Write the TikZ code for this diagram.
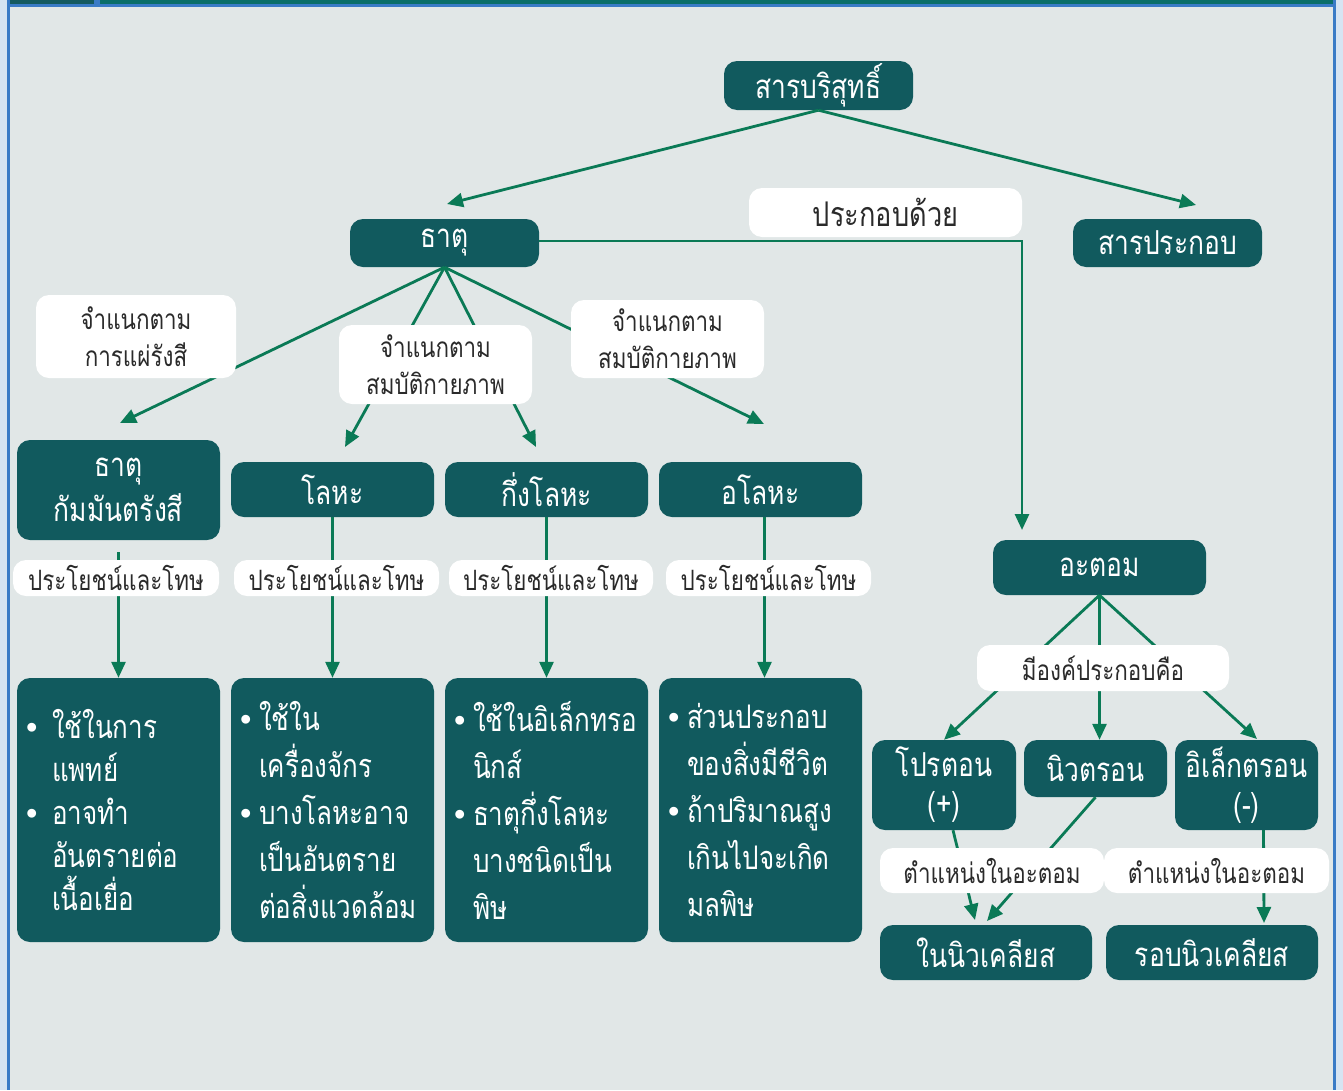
\documentclass[tikz,border=0pt]{standalone}
\usepackage{fontspec}
\setmainfont{Liberation Sans}
\newfontfamily\thaifont[Script=Thai,FakeStretch=0.8]{Loma}
\usetikzlibrary{arrows.meta}

\definecolor{bg}{HTML}{E1E7E7}
\definecolor{frameblue}{HTML}{3A7BC6}
\definecolor{bandteal}{HTML}{0A6E69}
\definecolor{banddark}{HTML}{145A60}
\definecolor{boxfill}{HTML}{115A5E}
\definecolor{linkgreen}{HTML}{0A7A56}
\definecolor{labeltext}{HTML}{2A2A2A}
\definecolor{edgepale}{HTML}{D6E4F2}

% bullet and hanging indent for the list boxes
\newlength\bltw
\setlength\bltw{19pt}
\newcommand\blt{\makebox[\bltw][l]{\fontspec{Liberation Sans}\textbullet}}
\newcommand\ind{\hspace*{\bltw}}

\tikzset{
  box/.style={fill=boxfill, rounded corners=13pt, text=white, align=center,
    inner sep=0pt, font=\thaifont\fontsize{33}{40}\selectfont},
  listbox/.style={box, align=left, text width=185pt, inner xsep=9pt,
    minimum height=264pt, font=\thaifont\fontsize{32.5}{47}\selectfont},
  lab/.style={fill=white, rounded corners=13pt, text=labeltext, align=center,
    inner sep=0pt, font=\thaifont\fontsize{28}{37}\selectfont},
  link/.style={draw=linkgreen, line width=2.8pt},
  arr/.style={link, -{Triangle[length=16pt,width=14pt]}}
}

\begin{document}
\begin{tikzpicture}[x=1pt,y=-1pt]
% page, frame and top band
\useasboundingbox (0,0) rectangle (1343,1090);
\fill[edgepale] (0,0) rectangle (1343,1090);
\fill[bg] (7,0) rectangle (1336,1090);
\fill[bandteal] (7,0) rectangle (1336,4);
\fill[banddark] (10,0) rectangle (94,4);
\fill[frameblue] (7,4) rectangle (1336,7);
\fill[frameblue] (94,0) rectangle (100,7);
\fill[frameblue] (7,0) rectangle (10,1090);
\fill[frameblue] (1333,0) rectangle (1336,1090);

% main nodes
\node[box, minimum width=189pt, minimum height=49pt] (pure) at (818.5,85.5) {สารบริสุทธิ์};
\node[box, minimum width=189pt, minimum height=48pt] (element) at (444.5,243) {ธาตุ};
\node[box, minimum width=189pt, minimum height=48pt] (compound) at (1167.5,243) {สารประกอบ};

\node[box, minimum width=203pt, minimum height=100pt, font=\thaifont\fontsize{33}{45}\selectfont] (radio) at (118.5,490) {ธาตุ\\กัมมันตรังสี};
\node[box, minimum width=203pt, minimum height=55pt] (metal) at (332.5,489.5) {โลหะ};
\node[box, minimum width=203pt, minimum height=55pt] (metalloid) at (546.5,489.5) {กึ่งโลหะ};
\node[box, minimum width=203pt, minimum height=55pt] (nonmetal) at (760.5,489.5) {อโลหะ};

\node[listbox, font=\thaifont\fontsize{32.5}{43}\selectfont] (use1) at (118.5,810) {\setlength\bltw{26pt}\blt ใช้ในการ\\\ind แพทย์\\\blt อาจทำ\\\ind อันตรายต่อ\\\ind เนื้อเยื่อ};
\node[listbox] (use2) at (332.5,810) {\blt ใช้ใน\\\ind เครื่องจักร\\\blt บางโลหะอาจ\\\ind เป็นอันตราย\\\ind ต่อสิ่งแวดล้อม};
\node[listbox] (use3) at (546.5,810) {\blt ใช้ในอิเล็กทรอ\\\ind นิกส์\\\blt ธาตุกึ่งโลหะ\\\ind บางชนิดเป็น\\\ind พิษ};
\node[listbox] (use4) at (760.5,810) {\blt ส่วนประกอบ\\\ind ของสิ่งมีชีวิต\\\blt ถ้าปริมาณสูง\\\ind เกินไปจะเกิด\\\ind มลพิษ};

\node[box, minimum width=213pt, minimum height=55pt] (atom) at (1099.5,567.5) {อะตอม};
\node[box, minimum width=144pt, minimum height=90pt, font=\thaifont\fontsize{33}{39}\selectfont] (proton) at (944,785) {โปรตอน\\(+)};
\node[box, minimum width=143pt, minimum height=57pt] (neutron) at (1095.5,768.5) {นิวตรอน};
\node[box, minimum width=143pt, minimum height=90pt, font=\thaifont\fontsize{33}{39}\selectfont] (electron) at (1246.5,785) {อิเล็กตรอน\\(-)};
\node[box, minimum width=212pt, minimum height=55pt] (innuc) at (986,952.5) {ในนิวเคลียส};
\node[box, minimum width=212pt, minimum height=55pt] (outnuc) at (1212,952.5) {รอบนิวเคลียส};

% arrow tips that stop short of their boxes
\coordinate (tipElement) at (447,204);
\coordinate (tipCompound) at (1196,205);
\coordinate (tipAtom) at (1022,530);
\coordinate (tipRadio) at (120,423);
\coordinate (tipMetal) at (345,447);
\coordinate (tipMetalloid) at (536,447);
\coordinate (tipNonmetal) at (764,424);
\coordinate (tipElectron) at (1257,739);
\coordinate (tipInA) at (975,920);
\coordinate (tipInB) at (987,921);
\coordinate (tipOut) at (1264,923);

% connectors
\draw[arr] (pure.south) -- (tipElement);
\draw[arr] (pure.south) -- (tipCompound);
\draw[arr] (element.east |- 0,241) -| (tipAtom);
\draw[arr] (element.south) -- (tipRadio);
\draw[arr] (element.south) -- (tipMetal);
\draw[arr] (element.south) -- (tipMetalloid);
\draw[arr] (element.south) -- (tipNonmetal);

\draw[arr] ([yshift=-12pt]radio.south) -- (use1.north);
\draw[arr] (metal.south) -- (use2.north);
\draw[arr] (metalloid.south) -- (use3.north);
\draw[arr] ([xshift=4pt]nonmetal.south) -- ([xshift=4pt]use4.north);

\draw[arr] (atom.south) -- (proton.north);
\draw[arr] (atom.south) -- (atom.south |- neutron.north);
\draw[arr] (atom.south) -- (tipElectron);
\draw[arr] ([xshift=9pt]proton.south) -- (tipInA);
\draw[arr] (neutron.south) -- (tipInB);
\draw[arr] ([xshift=17pt]electron.south) -- (tipOut);

% white labels laid over the connectors
\node[lab, minimum width=273pt, minimum height=49pt, font=\thaifont\fontsize{34}{37}\selectfont] (consist) at (885.5,212.5) {ประกอบด้วย};
\node[lab, minimum width=200pt, minimum height=83pt] (byRadiation) at (136,336.5) {จำแนกตาม\\การแผ่รังสี};
\node[lab, minimum width=193pt, minimum height=79pt] (byPhysA) at (435.5,364.5) {จำแนกตาม\\สมบัติกายภาพ};
\node[lab, minimum width=193pt, minimum height=78pt] (byPhysB) at (667.5,339) {จำแนกตาม\\สมบัติกายภาพ};

\node[lab, minimum width=206pt, minimum height=36pt] (pc1) at (116,578) {ประโยชน์และโทษ};
\node[lab, minimum width=205pt, minimum height=36pt] (pc2) at (336.5,578) {ประโยชน์และโทษ};
\node[lab, minimum width=204pt, minimum height=36pt] (pc3) at (551,578) {ประโยชน์และโทษ};
\node[lab, minimum width=205pt, minimum height=36pt] (pc4) at (768.5,578) {ประโยชน์และโทษ};

\node[lab, minimum width=252pt, minimum height=46pt] (compose) at (1103,668) {มีองค์ประกอบคือ};
\node[lab, minimum width=224pt, minimum height=45pt] (posA) at (992,870.5) {ตำแหน่งในอะตอม};
\node[lab, minimum width=225pt, minimum height=45pt] (posB) at (1216.5,870.5) {ตำแหน่งในอะตอม};
\end{tikzpicture}
\end{document}
